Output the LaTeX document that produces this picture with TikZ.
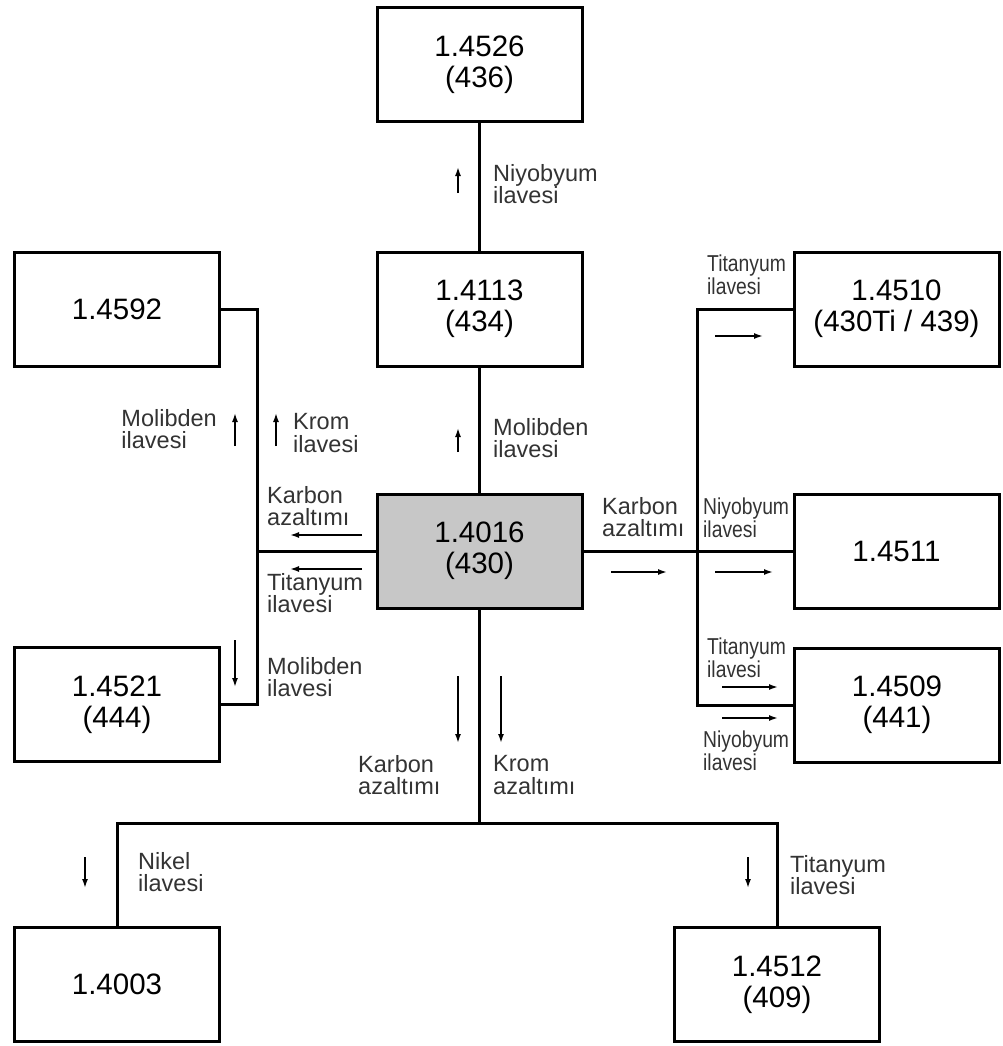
\documentclass[tikz,border=0pt]{standalone}
\usepackage{fontspec}
\setmainfont{Liberation Sans}
\newfontfamily\narrowsf[FakeStretch=0.84]{Liberation Sans}
\usepackage{tikz}
\usetikzlibrary{arrows.meta,positioning}

\tikzset{
  grade/.style={draw, line width=3pt, minimum width=205pt, minimum height=114pt,
    inner sep=0pt, align=center, font=\fontsize{29.5}{31}\selectfont},
  base/.style={grade, fill=black!22},
  link/.style={line width=3pt},
  hint/.style={-{Latex[length=9pt,width=6pt]}, line width=1.6pt},
  note/.style={inner sep=0pt, align=left, text=black!80, font=\fontsize{23.5}{22.5}\selectfont},
  slim/.style={note, font=\narrowsf\fontsize{23}{22.5}\selectfont}
}

\begin{document}
\begin{tikzpicture}[x=1pt,y=-1pt]
    \useasboundingbox (0,0) rectangle (1003,1046);
    \node[grade] (n4526) at (479.5,64.5) {1.4526\\(436)};
    \node[grade] (n4113) at (479.5,309) {1.4113\\(434)};
    \node[base] (n4016) at (479.5,551) {1.4016\\(430)};
    \node[grade] (n4592) at (117,309) {1.4592};
    \node[grade] (n4521) at (117,704.5) {1.4521\\(444)};
    \node[grade] (n4510) at (896.5,309) {1.4510\\(430Ti / 439)};
    \node[grade] (n4511) at (896.5,551) {1.4511};
    \node[grade] (n4509) at (897,705) {1.4509\\(441)};
    \node[grade] (n4003) at (117,984.5) {1.4003};
    \node[grade] (n4512) at (777,984.5) {1.4512\\(409)};

    \coordinate (lsplit) at (257,551);
    \coordinate (rsplit) at (697,551);
    \coordinate (bsplit) at (479.5,823);

    \draw[link] (n4113) -- (n4526);
    \draw[link] (n4016) -- (n4113);
    \draw[link] (n4016) -- (lsplit);
    \draw[link] (n4592.east) -| (lsplit) |- (n4521.east);
    \draw[link] (n4016) -- (n4511);
    \draw[link] (n4510.west) -| (rsplit) |- (n4509.west);
    \draw[link] (n4016) -- (bsplit);
    \draw[link] (n4003.north) |- (bsplit) -| (n4512.north);

    % up
    \draw[hint] (458,193) -- (458,167);
    \node[note, anchor=west] (tNb436) at (493,184) {Niyobyum\\ilavesi};
    \draw[hint] (458,452) -- (458,428);
    \node[note, anchor=west] (tMo434) at (493,438) {Molibden\\ilavesi};
    \draw[hint] (235,446) -- (235,413);
    \node[note, anchor=east] (tMo4592) at (217,429) {Molibden\\ilavesi};
    \draw[hint] (276,446) -- (276,413);
    \node[note, anchor=west] (tCr4592) at (293,433) {Krom\\ilavesi};

    % left
    \draw[hint] (362,535) -- (290,535);
    \node[note, anchor=west] (tCl) at (267,506) {Karbon\\azaltımı};
    \draw[hint] (362,569) -- (290,569);
    \node[note, anchor=west] (tTil) at (267,593) {Titanyum\\ilavesi};
    \draw[hint] (235,640) -- (235,687);
    \node[note, anchor=west] (tMo444) at (267,677) {Molibden\\ilavesi};

    % right
    \draw[hint] (611,572) -- (667,572);
    \node[note, anchor=west] (tCr) at (602,517) {Karbon\\azaltımı};
    \draw[hint] (715,336) -- (763,336);
    \node[slim, anchor=west] (tTi4510) at (707,275) {Titanyum\\ilavesi};
    \draw[hint] (715,572) -- (773,572);
    \node[slim, anchor=west] (tNb4511) at (703,518) {Niyobyum\\ilavesi};
    \draw[hint] (722,687) -- (778,687);
    \node[slim, anchor=west] (tTi441) at (707,658) {Titanyum\\ilavesi};
    \draw[hint] (722,718) -- (778,718);
    \node[slim, anchor=west] (tNb441) at (703,751) {Niyobyum\\ilavesi};

    % down
    \draw[hint] (458,676) -- (458,743);
    \node[note, anchor=west] (tCd) at (358,775) {Karbon\\azaltımı};
    \draw[hint] (501,676) -- (501,743);
    \node[note, anchor=west] (tCrd) at (493,775) {Krom\\azaltımı};
    \draw[hint] (85,857) -- (85,888);
    \node[note, anchor=west] (tNi) at (138,872) {Nikel\\ilavesi};
    \draw[hint] (748,857) -- (748,888);
    \node[note, anchor=west] (tTi409) at (790,875) {Titanyum\\ilavesi};
\end{tikzpicture}
\end{document}
